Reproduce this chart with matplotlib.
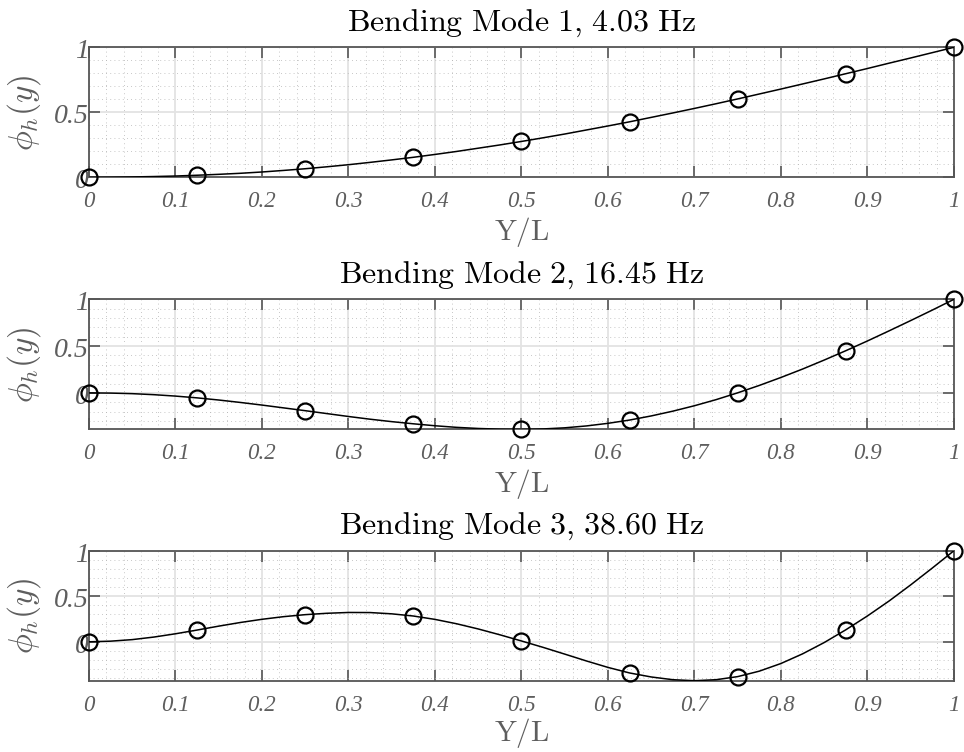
import matplotlib
matplotlib.use("Agg")
import matplotlib.pyplot as plt
from matplotlib.ticker import MultipleLocator, FixedLocator
from matplotlib.transforms import ScaledTranslation

plt.rcParams['mathtext.fontset'] = 'cm'

# Sensor stations along the span (markers)
x_nodes = [0.0, 0.125, 0.25, 0.375, 0.5, 0.625, 0.75, 0.875, 1.0]
# Finer stations for the fitted mode-shape curves
x_curve = [0.0, 0.025, 0.05, 0.075, 0.1, 0.125, 0.15, 0.175, 0.2, 0.225,
           0.25, 0.275, 0.3, 0.325, 0.35, 0.375, 0.4, 0.425, 0.45, 0.475,
           0.5, 0.525, 0.55, 0.575, 0.6, 0.625, 0.65, 0.675, 0.7, 0.725,
           0.75, 0.775, 0.8, 0.825, 0.85, 0.875, 0.9, 0.925, 0.95, 0.975, 1.0]

mode1_nodes = [0.0, 0.016, 0.066, 0.154, 0.276, 0.427, 0.603, 0.797, 1.0]
mode1_curve = [0.0, 0.001, 0.003, 0.006, 0.010, 0.016, 0.023, 0.031, 0.041,
               0.053, 0.066, 0.081, 0.097, 0.115, 0.134, 0.154, 0.176, 0.199,
               0.224, 0.249, 0.276, 0.304, 0.333, 0.364, 0.395, 0.427, 0.461,
               0.495, 0.530, 0.566, 0.603, 0.641, 0.679, 0.718, 0.757, 0.797,
               0.837, 0.878, 0.918, 0.959, 1.0]

mode2_nodes = [0.0, -0.053, -0.190, -0.330, -0.389, -0.290, 0.001, 0.451, 1.0]
mode2_curve = [0.0, -0.002, -0.008, -0.019, -0.034, -0.053, -0.076, -0.102,
               -0.130, -0.160, -0.190, -0.221, -0.252, -0.281, -0.307, -0.330,
               -0.351, -0.368, -0.380, -0.387, -0.389, -0.385, -0.373, -0.353,
               -0.325, -0.290, -0.246, -0.195, -0.137, -0.072, 0.001, 0.080,
               0.165, 0.255, 0.351, 0.451, 0.555, 0.663, 0.773, 0.885, 1.0]

mode3_nodes = [0.0, 0.129, 0.298, 0.283, 0.009, -0.342, -0.382, 0.132, 1.0]
mode3_curve = [0.0, 0.007, 0.024, 0.052, 0.088, 0.129, 0.172, 0.212, 0.247,
               0.276, 0.298, 0.313, 0.322, 0.321, 0.307, 0.283, 0.246, 0.198,
               0.141, 0.077, 0.009, -0.061, -0.135, -0.210, -0.281, -0.342,
               -0.386, -0.416, -0.427, -0.416, -0.382, -0.322, -0.238, -0.132,
               -0.008, 0.132, 0.284, 0.448, 0.625, 0.810, 1.0]

titles = [r'$\mathrm{Bending\ Mode\ 1{,}\ 4.03\ Hz}$',
          r'$\mathrm{Bending\ Mode\ 2{,}\ 16.45\ Hz}$',
          r'$\mathrm{Bending\ Mode\ 3{,}\ 38.60\ Hz}$']

x_ticks = [0, 0.1, 0.2, 0.3, 0.4, 0.5, 0.6, 0.7, 0.8, 0.9, 1]
x_ticklabels = ['0', '0.1', '0.2', '0.3', '0.4', '0.5', '0.6', '0.7', '0.8', '0.9', '1']
y_ticks = [0, 0.5, 1]
y_ticklabels = ['0', '0.5', '1']

axis_grey = '#555555'
label_grey = '#5e5e5e'

fig = plt.figure(figsize=(9.64, 7.52), dpi=100)
bottoms = [0.7642, 0.4291, 0.0948]
xlabel_pads = [2, 2, 0]
modes = [(mode1_nodes, mode1_curve), (mode2_nodes, mode2_curve), (mode3_nodes, mode3_curve)]
ylab_shift = ScaledTranslation(0, -1.5 / 100, fig.dpi_scale_trans)

for b, xpad, (nodes, curve), title in zip(bottoms, xlabel_pads, modes, titles):
    ax = fig.add_axes([0.0923, b, 0.8973, 0.1729])
    ax.plot(x_curve, curve, color='black', lw=1.1, zorder=3)
    ax.plot(x_nodes, nodes, 'o', mfc='none', mec='black', ms=11.5, mew=1.6,
            zorder=4, clip_on=False)
    ax.set_xlim(0, 1)
    ax.set_ylim(min(curve), 1)

    ax.xaxis.set_major_locator(FixedLocator(x_ticks))
    ax.set_xticklabels(x_ticklabels)
    ax.yaxis.set_major_locator(FixedLocator(y_ticks))
    ax.set_yticklabels(y_ticklabels)
    ax.xaxis.set_minor_locator(MultipleLocator(0.02))
    ax.yaxis.set_minor_locator(MultipleLocator(0.1))

    ax.set_axisbelow(True)
    ax.grid(which='major', color='#e3e3e3', lw=1.3, ls='-')
    ax.grid(which='minor', color='#b4b4b4', lw=0.6, ls=(0, (1, 4)))

    ax.tick_params(which='major', direction='in', length=8, width=1.2,
                   color=axis_grey, top=True, right=True)
    ax.tick_params(which='minor', length=0, top=True, right=True)
    ax.tick_params(axis='x', which='major', pad=10)
    ax.tick_params(axis='y', which='major', pad=0)
    for lab in ax.get_xticklabels():
        lab.set_fontfamily('Liberation Serif')
        lab.set_fontstyle('italic')
        lab.set_fontsize(16.5)
        lab.set_color(label_grey)
    for lab in ax.yaxis.get_majorticklabels():
        lab.set_fontfamily('Liberation Serif')
        lab.set_fontstyle('italic')
        lab.set_fontsize(20)
        lab.set_color(label_grey)
        lab.set_transform(lab.get_transform() + ylab_shift)
    for sp in ax.spines.values():
        sp.set_color(axis_grey)
        sp.set_linewidth(1.3)

    ax.set_title(title, fontsize=23, color='black', pad=12)
    ax.set_xlabel(r'$\mathrm{Y/L}$', fontsize=21, color=label_grey, labelpad=xpad)
    ax.set_ylabel(r'$\phi_h(y)$', fontsize=24, color=label_grey, labelpad=8)

fig.savefig('out.png', dpi=100)
